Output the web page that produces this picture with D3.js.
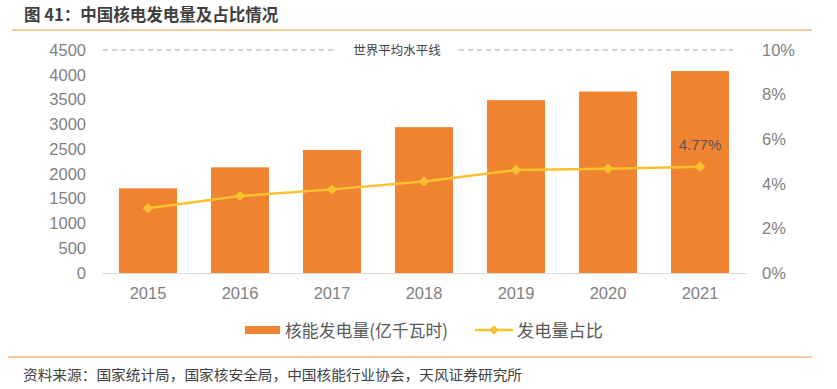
<!DOCTYPE html>
<html>
<head>
<meta charset="utf-8">
<script src="https://cdn.jsdelivr.net/npm/d3@7"></script>
<style>
  body { margin: 0; background: #fff; }
  svg { font-family: "Liberation Sans", Arial, "Noto Sans CJK SC", sans-serif; }
</style>
</head>
<body>
<svg width="837" height="389"></svg>
<script>
var years = ["2015", "2016", "2017", "2018", "2019", "2020", "2021"];
var output = [1708, 2132, 2481, 2944, 3487, 3662, 4075];
var share = [2.90, 3.45, 3.75, 4.10, 4.62, 4.68, 4.77];
var leftTicks = [0, 500, 1000, 1500, 2000, 2500, 3000, 3500, 4000, 4500];
var rightTicks = [0, 2, 4, 6, 8, 10];
var worldAvg = 10;

var svg = d3.select("svg");
var cjk = "'Noto Sans CJK SC', sans-serif";

var x = d3.scaleBand().domain(years).range([102, 746]).paddingInner(0.37).paddingOuter(0.185);
var y = d3.scaleLinear().domain([0, 4500]).range([273, 50]);
var y2 = d3.scaleLinear().domain([0, 10]).range([273, 50]);

// title and frame lines
svg.append("text").attr("x", 24).attr("y", 21)
  .attr("font-family", cjk).attr("font-weight", "bold").attr("font-size", 16.5)
  .attr("fill", "#404040").text("图 41：中国核电发电量及占比情况");
svg.append("line").attr("x1", 12).attr("x2", 812).attr("y1", 30).attr("y2", 30)
  .attr("stroke", "#f7b77c").attr("stroke-width", 1.5);
svg.append("line").attr("x1", 8).attr("x2", 812).attr("y1", 357).attr("y2", 357)
  .attr("stroke", "#f7b77c").attr("stroke-width", 1.5);
svg.append("text").attr("x", 23).attr("y", 380)
  .attr("font-family", cjk).attr("font-size", 14)
  .attr("textLength", 499).attr("lengthAdjust", "spacingAndGlyphs")
  .attr("fill", "#404040").text("资料来源：国家统计局，国家核安全局，中国核能行业协会，天风证券研究所");

// world average dashed line
var avgY = y2(worldAvg);
svg.append("line").attr("x1", 103).attr("x2", 336).attr("y1", avgY).attr("y2", avgY)
  .attr("stroke", "#a6a6a6").attr("stroke-width", 1).attr("stroke-dasharray", "5,4");
svg.append("line").attr("x1", 459).attr("x2", 733).attr("y1", avgY).attr("y2", avgY)
  .attr("stroke", "#a6a6a6").attr("stroke-width", 1).attr("stroke-dasharray", "5,4");
svg.append("text").attr("x", 397).attr("y", avgY + 4.5).attr("text-anchor", "middle")
  .attr("font-family", cjk).attr("font-size", 12.5).attr("fill", "#404040").text("世界平均水平线");

// axes
var leftAxis = svg.append("g").attr("transform", "translate(102,0)")
  .call(d3.axisLeft(y).tickValues(leftTicks).tickSize(0).tickPadding(16).tickFormat(d3.format("d")));
leftAxis.select(".domain").remove();
var rightAxis = svg.append("g").attr("transform", "translate(746,0)")
  .call(d3.axisRight(y2).tickValues(rightTicks).tickSize(0).tickPadding(16).tickFormat(function (d) { return d + "%"; }));
rightAxis.select(".domain").remove();
var bottomAxis = svg.append("g").attr("transform", "translate(0,273)")
  .call(d3.axisBottom(x).tickSize(0).tickPadding(14));
bottomAxis.select(".domain").attr("stroke", "#d9d9d9");
svg.selectAll(".tick text").attr("font-size", 16.5).attr("fill", "#7f7f7f")
  .attr("font-family", "'Liberation Sans', Arial, sans-serif");

// bars
svg.append("g").selectAll("rect").data(output).enter().append("rect")
  .attr("x", function (d, i) { return x(years[i]); })
  .attr("y", function (d) { return y(d); })
  .attr("width", x.bandwidth())
  .attr("height", function (d) { return 273 - y(d); })
  .attr("fill", "#f08330");

// share line
var line = d3.line()
  .x(function (d, i) { return x(years[i]) + x.bandwidth() / 2; })
  .y(function (d) { return y2(d); });
svg.append("path").datum(share).attr("d", line)
  .attr("fill", "none").attr("stroke", "#fac12f").attr("stroke-width", 2.5);
svg.append("g").selectAll("path").data(share).enter().append("path")
  .attr("d", d3.symbol().type(d3.symbolDiamond2).size(70))
  .attr("transform", function (d, i) {
    return "translate(" + (x(years[i]) + x.bandwidth() / 2) + "," + y2(d) + ")";
  })
  .attr("fill", "#fac12f");

var last = share.length - 1;
svg.append("text")
  .attr("x", x(years[last]) + x.bandwidth() / 2)
  .attr("y", y2(share[last]) - 17)
  .attr("text-anchor", "middle").attr("font-size", 15).attr("fill", "#595959")
  .text(share[last].toFixed(2) + "%");

// legend
var lg = svg.append("g").attr("transform", "translate(0,330)");
lg.append("rect").attr("x", 245).attr("y", -4).attr("width", 35).attr("height", 8).attr("fill", "#f08330");
lg.append("text").attr("x", 285).attr("y", 6.5).attr("font-family", cjk).attr("font-size", 17.5)
  .attr("textLength", 163).attr("lengthAdjust", "spacingAndGlyphs")
  .attr("fill", "#595959").text("核能发电量(亿千瓦时)");
lg.append("line").attr("x1", 475).attr("x2", 513).attr("y1", 0).attr("y2", 0)
  .attr("stroke", "#fac12f").attr("stroke-width", 2.5);
lg.append("path").attr("d", d3.symbol().type(d3.symbolDiamond2).size(60))
  .attr("transform", "translate(494,0)").attr("fill", "#fac12f");
lg.append("text").attr("x", 517).attr("y", 6.5).attr("font-family", cjk).attr("font-size", 17.5)
  .attr("textLength", 86).attr("lengthAdjust", "spacingAndGlyphs")
  .attr("fill", "#595959").text("发电量占比");
</script>
</body>
</html>
